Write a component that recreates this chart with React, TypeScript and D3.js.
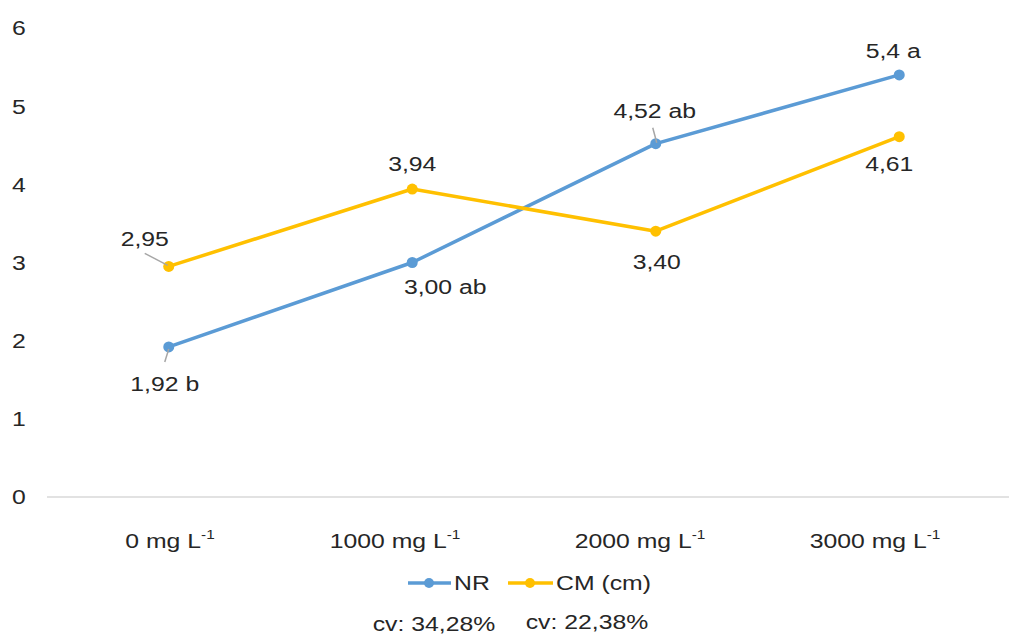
import React from "react";
import * as d3 from "d3";

const categories = ["0", "1000", "2000", "3000"];
const nrValues = [1.92, 3.0, 4.52, 5.4];
const cmValues = [2.95, 3.94, 3.4, 4.61];
const nrLabels = ["1,92 b", "3,00 ab", "4,52 ab", "5,4 a"];
const cmLabels = ["2,95", "3,94", "3,40", "4,61"];
const yTicks = [0, 1, 2, 3, 4, 5, 6];
const cvTexts = ["cv: 34,28%", "cv: 22,38%"];

// label placement offsets (dx, dy from point to text baseline center)
const nrLabelPos = [
  { dx: -4, dy: 44 },
  { dx: 33, dy: 31 },
  { dx: -1, dy: -26 },
  { dx: -6, dy: -17 },
];
const cmLabelPos = [
  { dx: -24, dy: -20 },
  { dx: 0, dy: -18 },
  { dx: 1, dy: 38 },
  { dx: -10, dy: 34 },
];

const W = 1009;
const H = 637;
const FONT = "'Liberation Sans', Arial, sans-serif";
const BLUE = "#5B9BD5";
const ORANGE = "#FFC000";
const SX = 1.18;
const FS = 21;

function T({ x, y, anchor = "middle", dy, children, size = FS }: any) {
  return (
    <text
      transform={`translate(${x},${y}) scale(${SX},1)`}
      textAnchor={anchor}
      dy={dy}
      fontSize={size}
      fill="#262626"
    >
      {children}
    </text>
  );
}

export default function App() {
  const x = d3.scaleBand<string>().domain(categories).range([47, 1021]);
  const xl = d3.scalePoint<string>().domain(categories).range([170, 875]);
  const y = d3.scaleLinear().domain([0, 6]).range([497, 28]);
  const cx = (c: string) => (x(c) as number) + x.bandwidth() / 2;
  const line = d3
    .line<number>()
    .x((_, i) => cx(categories[i]))
    .y((d) => y(d));

  const series = [
    { vals: nrValues, labels: nrLabels, pos: nrLabelPos, color: BLUE },
    { vals: cmValues, labels: cmLabels, pos: cmLabelPos, color: ORANGE },
  ];

  const leader = (x1: number, y1: number, x2: number, y2: number) => (
    <line x1={x1} y1={y1} x2={x2} y2={y2} stroke="#a6a6a6" strokeWidth={1.5} />
  );

  return (
    <svg
      width={W}
      height={H}
      style={{ position: "absolute", left: 0, top: 0, background: "#fff" }}
      fontFamily={FONT}
    >
      <rect width={W} height={H} fill="#fff" />
      {yTicks.map((t) => (
        <T key={t} x={19} y={y(t)} dy="0.35em">
          {t}
        </T>
      ))}
      <line x1={47} x2={1021} y1={y(0)} y2={y(0)} stroke="#d9d9d9" strokeWidth={1.5} />
      {categories.map((c, i) => (
        <T key={c} x={(xl(c) as number) + (i === 1 ? -10 : 0)} y={548}>
          {c} mg L
          <tspan fontSize={13} dy={-9}>
            -1
          </tspan>
        </T>
      ))}
      {series.map((s, si) => (
        <g key={si}>
          <path d={line(s.vals) as string} fill="none" stroke={s.color} strokeWidth={3.5} strokeLinejoin="round" />
          {s.vals.map((v, i) => (
            <circle key={i} cx={cx(categories[i])} cy={y(v)} r={5.5} fill={s.color} />
          ))}
        </g>
      ))}
      {/* leader lines */}
      {leader(cx(categories[0]) - 1, y(cmValues[0]) - 1, cx(categories[0]) - 24, y(cmValues[0]) - 13)}
      {leader(cx(categories[0]), y(nrValues[0]) + 2, cx(categories[0]) - 4, y(nrValues[0]) + 15)}
      {leader(cx(categories[2]) + 1, y(nrValues[2]) - 1, cx(categories[2]) - 3, y(nrValues[2]) - 16)}
      {series.map((s, si) => (
        <g key={"l" + si}>
          {s.vals.map((v, i) => {
            const px = cx(categories[i]);
            const py = y(v);
            const p = s.pos[i];
            return (
              <T key={i} x={px + p.dx} y={py + p.dy}>
                {s.labels[i]}
              </T>
            );
          })}
        </g>
      ))}
      {/* legend */}
      <g>
        <line x1={408} x2={451} y1={583} y2={583} stroke={BLUE} strokeWidth={3.5} />
        <circle cx={429} cy={583} r={5} fill={BLUE} />
        <T x={454} y={583} dy="0.35em" anchor="start">NR</T>
        <line x1={508} x2={553} y1={583} y2={583} stroke={ORANGE} strokeWidth={3.5} />
        <circle cx={530} cy={583} r={5} fill={ORANGE} />
        <T x={556} y={583} dy="0.35em" anchor="start">CM (cm)</T>
      </g>
      <T x={434} y={631}>{cvTexts[0]}</T>
      <T x={587} y={629}>{cvTexts[1]}</T>
    </svg>
  );
}
